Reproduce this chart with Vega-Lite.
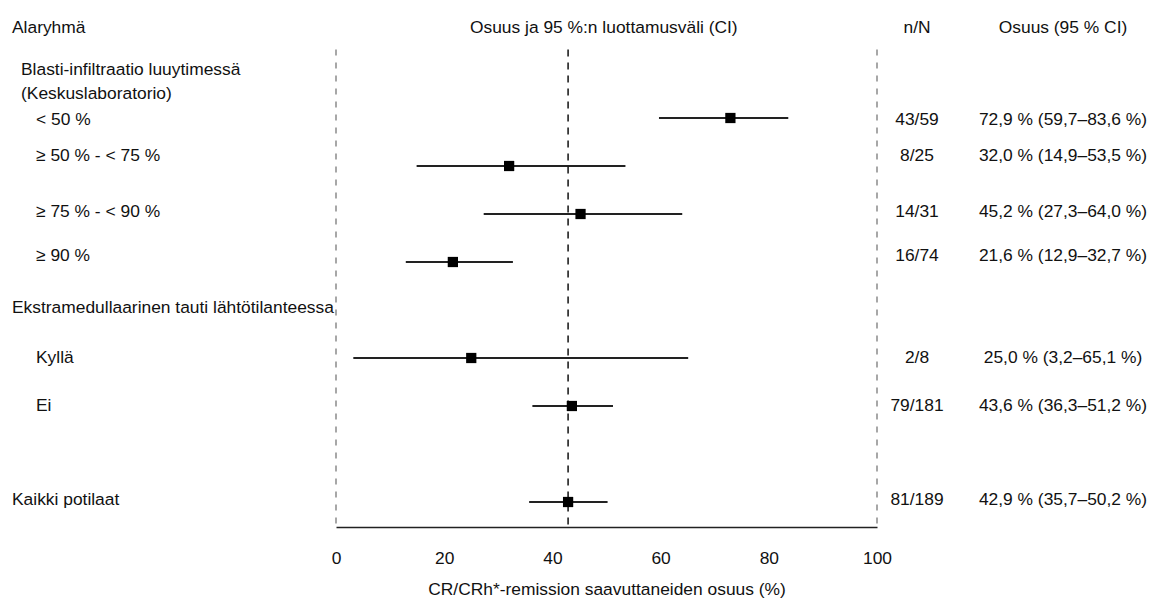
{
  "$schema": "https://vega.github.io/schema/vega-lite/v6.json",
  "padding": 0,
  "spacing": 0,
  "bounds": "flush",
  "background": "white",
  "config": {
    "view": {"stroke": null},
    "font": "Liberation Sans",
    "text": {"font": "Liberation Sans", "fontSize": 17.4, "color": "#111111"},
    "axisX": {
      "ticks": false, "grid": false,
      "domain": true, "domainColor": "#222222", "domainWidth": 1.5,
      "labelFont": "Liberation Sans", "labelFontSize": 17.4, "labelColor": "#111111",
      "labelPadding": 22, "labelFlush": false,
      "titleFont": "Liberation Sans", "titleFontSize": 17.4, "titleFontWeight": "normal", "titleColor": "#111111",
      "titlePadding": 14
    }
  },
  "datasets": {
    "rows": [
      {"label": "Alaryhmä", "level": 0, "row": -1.75, "textRow": -1.75, "nN": "n/N", "ci": "Osuus (95 % CI)"},
      {"label": "Blasti-infiltraatio luuytimessä", "level": 1, "row": 0, "textRow": 0},
      {"label": "(Keskuslaboratorio)", "level": 1, "row": 1, "textRow": 1},
      {"label": "< 50 %", "level": 2, "row": 2, "textRow": 2.1, "est": 72.9, "lo": 59.7, "hi": 83.6, "nN": "43/59", "ci": "72,9 % (59,7–83,6 %)"},
      {"label": "≥ 50 % - < 75 %", "level": 2, "row": 4, "textRow": 3.6, "est": 32.0, "lo": 14.9, "hi": 53.5, "nN": "8/25", "ci": "32,0 % (14,9–53,5 %)"},
      {"label": "≥ 75 % - < 90 %", "level": 2, "row": 6, "textRow": 5.9, "est": 45.2, "lo": 27.3, "hi": 64.0, "nN": "14/31", "ci": "45,2 % (27,3–64,0 %)"},
      {"label": "≥ 90 %", "level": 2, "row": 8, "textRow": 7.75, "est": 21.6, "lo": 12.9, "hi": 32.7, "nN": "16/74", "ci": "21,6 % (12,9–32,7 %)"},
      {"label": "Ekstramedullaarinen tauti lähtötilanteessa", "level": 0, "row": 9.9, "textRow": 9.9},
      {"label": "Kyllä", "level": 2, "row": 12, "textRow": 12, "est": 25.0, "lo": 3.2, "hi": 65.1, "nN": "2/8", "ci": "25,0 % (3,2–65,1 %)"},
      {"label": "Ei", "level": 2, "row": 14, "textRow": 14, "est": 43.6, "lo": 36.3, "hi": 51.2, "nN": "79/181", "ci": "43,6 % (36,3–51,2 %)"},
      {"label": "Kaikki potilaat", "level": 0, "row": 18, "textRow": 17.9, "est": 42.9, "lo": 35.7, "hi": 50.2, "nN": "81/189", "ci": "42,9 % (35,7–50,2 %)"}
    ]
  },
  "hconcat": [
    {
      "width": 336,
      "height": 527,
      "data": {"name": "rows"},
      "mark": {"type": "text", "align": "left", "baseline": "middle"},
      "encoding": {
        "x": {"field": "level", "type": "quantitative", "scale": {"type": "linear", "domain": [0, 1, 2], "range": [12, 21, 36], "nice": false, "zero": false}, "axis": null},
        "y": {"field": "textRow", "type": "quantitative", "scale": {"domain": [-2.9167, 19.0417], "reverse": true, "nice": false, "zero": false}, "axis": null},
        "text": {"field": "label"}
      }
    },
    {
      "width": 541,
      "height": 527,
      "layer": [
        {
          "data": {"name": "rows"},
          "transform": [{"filter": "isValid(datum.est)"}],
          "mark": {"type": "rule", "stroke": "#222222", "strokeWidth": 2},
          "encoding": {
            "x": {"field": "lo", "type": "quantitative", "title": "CR/CRh*-remission saavuttaneiden osuus (%)", "scale": {"domain": [0, 100], "nice": false, "zero": false}, "axis": {"values": [0, 20, 40, 60, 80, 100]}},
            "x2": {"field": "hi"},
            "y": {"field": "row", "type": "quantitative", "scale": {"domain": [-2.9167, 19.0417], "reverse": true, "nice": false, "zero": false}, "axis": null}
          }
        },
        {
          "data": {"values": [{"t": "Osuus ja 95 %:n luottamusväli (CI)"}]},
          "mark": {"type": "text", "align": "center", "baseline": "middle"},
          "encoding": {
            "x": {"datum": 49.5, "type": "quantitative", "title": "CR/CRh*-remission saavuttaneiden osuus (%)", "scale": {"domain": [0, 100], "nice": false, "zero": false}, "axis": {"values": [0, 20, 40, 60, 80, 100]}},
            "y": {"datum": -1.75, "type": "quantitative", "scale": {"domain": [-2.9167, 19.0417], "reverse": true, "nice": false, "zero": false}, "axis": null},
            "text": {"field": "t"}
          }
        },
        {
          "data": {"values": [{"v": 0}, {"v": 100}]},
          "mark": {"type": "rule", "stroke": "#8a8a8a", "strokeWidth": 1.5, "strokeDash": [6, 7]},
          "encoding": {
            "x": {"field": "v", "type": "quantitative", "title": "CR/CRh*-remission saavuttaneiden osuus (%)", "scale": {"domain": [0, 100], "nice": false, "zero": false}, "axis": {"values": [0, 20, 40, 60, 80, 100]}},
            "y": {"datum": -0.85, "type": "quantitative", "scale": {"domain": [-2.9167, 19.0417], "reverse": true, "nice": false, "zero": false}, "axis": null},
            "y2": {"datum": 19.0417}
          }
        },
        {
          "data": {"values": [{"ref": 42.9}]},
          "mark": {"type": "rule", "stroke": "#111111", "strokeWidth": 1.5, "strokeDash": [7, 6]},
          "encoding": {
            "x": {"field": "ref", "type": "quantitative", "title": "CR/CRh*-remission saavuttaneiden osuus (%)", "scale": {"domain": [0, 100], "nice": false, "zero": false}, "axis": {"values": [0, 20, 40, 60, 80, 100]}},
            "y": {"datum": -0.85, "type": "quantitative", "scale": {"domain": [-2.9167, 19.0417], "reverse": true, "nice": false, "zero": false}, "axis": null},
            "y2": {"datum": 19.0417}
          }
        },
        {
          "data": {"name": "rows"},
          "transform": [{"filter": "isValid(datum.est)"}],
          "mark": {"type": "point", "shape": "square", "filled": true, "color": "#000000", "size": 105, "opacity": 1},
          "encoding": {
            "x": {"field": "est", "type": "quantitative", "title": "CR/CRh*-remission saavuttaneiden osuus (%)", "scale": {"domain": [0, 100], "nice": false, "zero": false}, "axis": {"values": [0, 20, 40, 60, 80, 100]}},
            "y": {"field": "row", "type": "quantitative", "scale": {"domain": [-2.9167, 19.0417], "reverse": true, "nice": false, "zero": false}, "axis": null}
          }
        }
      ]
    },
    {
      "width": 274,
      "height": 527,
      "data": {"name": "rows"},
      "transform": [
        {"filter": "isValid(datum.nN)"},
        {"fold": ["nN", "ci"], "as": ["col", "txt"]}
      ],
      "mark": {"type": "text", "align": "center", "baseline": "middle"},
      "encoding": {
        "x": {"field": "col", "type": "ordinal", "scale": {"type": "point", "domain": ["nN", "ci"], "range": [40, 186], "padding": 0}, "axis": null},
        "y": {"field": "textRow", "type": "quantitative", "scale": {"domain": [-2.9167, 19.0417], "reverse": true, "nice": false, "zero": false}, "axis": null},
        "text": {"field": "txt"}
      }
    }
  ]
}
